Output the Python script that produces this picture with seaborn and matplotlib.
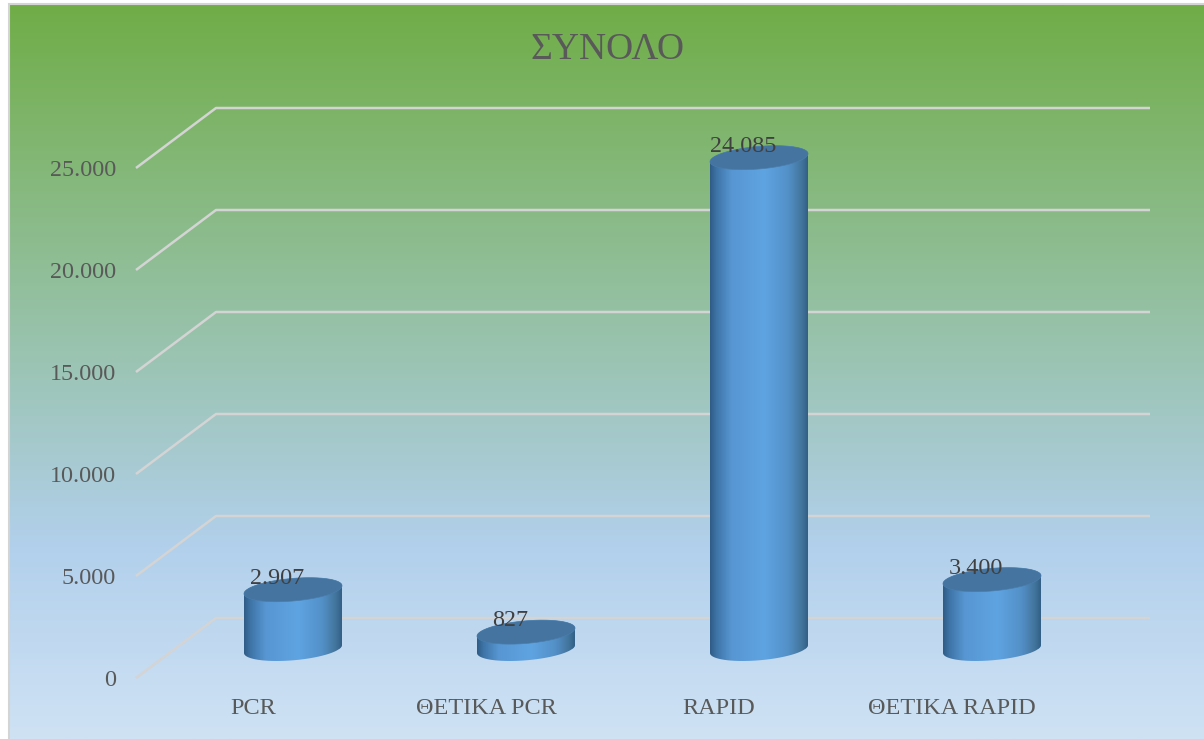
import numpy as np
import pandas as pd
import matplotlib
matplotlib.use("Agg")
import matplotlib.pyplot as plt
import seaborn as sns
from matplotlib.colors import LinearSegmentedColormap
from matplotlib.patches import Polygon, Rectangle
from matplotlib.transforms import Affine2D

categories = ["PCR", "ΘΕΤΙΚΑ PCR", "RAPID", "ΘΕΤΙΚΑ RAPID"]
values = [2907, 827, 24085, 3400]
value_labels = ["2.907", "827", "24.085", "3.400"]
y_ticks = [0, 5000, 10000, 15000, 20000, 25000]
y_tick_labels = ["0", "5.000", "10.000", "15.000", "20.000", "25.000"]
title = "ΣΥΝΟΛΟ"

W, H = 1204, 739
PX_PER_CAT = 233.0      # horizontal pixels per category
PX_PER_UNIT = 0.0204    # vertical pixels per value unit
X0_PX, Y0_PX = 293.0, 649.0   # pixel position of the first bar's base centre

sns.set_theme(style="white")
plt.rcParams["font.family"] = ["Liberation Serif", "DejaVu Serif"]

fig = plt.figure(figsize=(W / 100, H / 100), dpi=100, facecolor="white")
ax = fig.add_axes([0, 0, 1, 1])
df = pd.DataFrame({"cat": categories, "val": values})
sns.barplot(data=df, x="cat", y="val", ax=ax, width=98 / PX_PER_CAT,
            color="#5b9bd5", saturation=1, errorbar=None, zorder=3)

xpx = lambda p: (p - X0_PX) / PX_PER_CAT
dy = lambda p: p / PX_PER_UNIT           # pixel height expressed in value units
xlim = (xpx(0), xpx(W))
ylim = (-(H - Y0_PX) / PX_PER_UNIT, Y0_PX / PX_PER_UNIT)

# Background gradient
bg = LinearSegmentedColormap.from_list(
    "bg", [(0, "#70AD47"), (0.74, "#B2D0EC"), (1, "#CFE2F4")])
ax.imshow(np.linspace(0, 1, 512).reshape(-1, 1), cmap=bg, aspect="auto", zorder=0,
          extent=(10 / W, 1, 0, 1 - 5 / H), transform=ax.transAxes, origin="upper")
ax.add_patch(Rectangle((9 / W, -0.01), 1.1, 1 - 4 / H + 0.01, transform=ax.transAxes,
                       fill=False, ec="#d4d4d4", lw=1.5, zorder=1))

# Walls: gridlines on the back wall, diagonals to the front edge
for v in y_ticks:
    ax.plot([xpx(136), xpx(216), xpx(1150)],
            [v - dy(29), v + dy(31), v + dy(31)],
            color="#d4d4d4", lw=1.8, zorder=2, solid_capstyle="butt")

# Cylinders
side = LinearSegmentedColormap.from_list(
    "side", [(0, "#2f5c86"), (0.07, "#3f75a8"), (0.22, "#5796d2"),
             (0.55, "#5fa4e2"), (0.8, "#5390c8"), (0.93, "#44779f"), (1, "#335f86")])


def ring(cx, cy, a, t):
    """Tilted ellipse points around (cx, cy) in data units."""
    b = dy(11.3)
    tilt = dy(4.0)
    return np.column_stack([cx + a * np.cos(t), cy + b * np.sin(t) + tilt * np.cos(t)])


for patch, val in zip(list(ax.patches), values):
    x = patch.get_x()
    w = patch.get_width()
    cx = x + w / 2
    a = w / 2
    lower = ring(cx, 0, a, np.linspace(np.pi, 2 * np.pi, 80))
    upper = ring(cx, val, a, np.linspace(0, np.pi, 80))
    outline = Polygon(np.vstack([lower, upper]), closed=True, transform=ax.transData,
                      fc="none", ec="none")
    ax.add_patch(outline)
    patch.set_clip_path(outline)
    im = ax.imshow(np.linspace(0, 1, 256).reshape(1, -1), cmap=side, aspect="auto",
                   extent=(x, x + w, -dy(16), val + dy(16)), zorder=3.1)
    im.set_clip_path(outline)
    cap = Polygon(ring(cx, val, a, np.linspace(0, 2 * np.pi, 160)), closed=True,
                  fc="#44749f", ec="#4a7dab", lw=0.5, zorder=3.2)
    ax.add_patch(cap)

# Value labels
for i, (val, lab) in enumerate(zip(values, value_labels)):
    ax.annotate(lab, xy=(i, val), xytext=(-16 * 0.72, 11.5 * 0.72),
                textcoords="offset points", ha="center", va="center",
                fontsize=17.4, color="#404040", zorder=5)

ax.set_xlim(xlim)
ax.set_ylim(ylim)
for s in ax.spines.values():
    s.set_visible(False)
ax.set_xlabel("")
ax.set_ylabel("")

# Axis labels, placed on the front edge of the floor
ax.set_xticks(range(len(categories)), categories)
ax.set_yticks(y_ticks, y_tick_labels)
ax.tick_params(axis="x", length=0, pad=-(H - 708 + 10) * 0.72, labelsize=17.5,
               labelcolor="#595959")
ax.tick_params(axis="y", length=0, pad=-116 * 0.72, labelsize=17.4,
               labelcolor="#595959")
for lab in ax.get_xticklabels():
    lab.set_transform(lab.get_transform() + Affine2D().translate(-40, 0))
    lab.set_zorder(5)
for lab in ax.get_yticklabels():
    lab.set_transform(lab.get_transform() + Affine2D().translate(0, -29))
    lab.set_zorder(5)

ax.text(607 / W, 1 - 50 / H, title, transform=ax.transAxes, ha="center", va="center",
        fontsize=27, color="#595959", zorder=5)

fig.savefig("out.png", dpi=100)
